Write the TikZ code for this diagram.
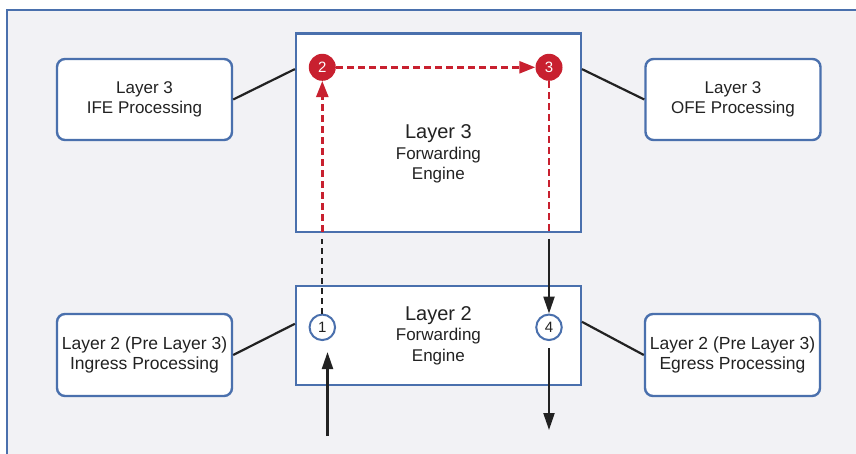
\documentclass[tikz,border=0pt]{standalone}
\usepackage{fontspec}
\setmainfont{Liberation Sans}
\usetikzlibrary{arrows.meta,calc}
\definecolor{frameblue}{HTML}{4A70AD}
\definecolor{flowred}{HTML}{C8202F}
\definecolor{paper}{HTML}{F2F2F5}
\definecolor{ink}{HTML}{222222}

\begin{document}
\begin{tikzpicture}[x=1pt,y=-1pt,
  engine/.style={draw=frameblue,line width=2.4pt,fill=white,inner sep=0pt,
    text=ink,align=center,font=\fontsize{17}{20.5}\selectfont},
  sidebox/.style={draw=frameblue,line width=2.4pt,fill=white,rounded corners=8pt,
    minimum width=175pt,minimum height=81pt,inner sep=0pt,align=center,
    text=ink,font=\fontsize{17}{20}\selectfont},
  hotstep/.style={circle,fill=flowred,text=white,minimum size=27pt,
    inner sep=0pt,font=\fontsize{15}{15}\selectfont},
  coldstep/.style={circle,draw=frameblue,line width=2pt,fill=white,text=ink,
    minimum size=25.5pt,inner sep=0pt,font=\fontsize{15}{15}\selectfont},
  link/.style={draw=ink,line width=2.2pt},
  redflow/.style={draw=flowred,line width=2.4pt,dash pattern=on 7pt off 4pt},
  redtip/.style={-{Triangle[length=16pt,width=12pt]}},
  blackdash/.style={draw=ink,line width=2.2pt,dash pattern=on 6pt off 4pt},
  blackflow/.style={draw=ink,line width=2.2pt,-{Triangle[length=17pt,width=11pt]}}
]
\useasboundingbox (0,0) rectangle (856,453);

% page and outer frame
\fill[white] (0,0) rectangle (856,453);
\fill[paper] (7,10) rectangle (862,460);
\draw[frameblue,line width=2.2pt] (7,460) -- (7,10) -- (862,10);

% forwarding engines
\node[engine,minimum width=284.7pt,minimum height=198.4pt] (l3) at (438.4,132.5) {};
\node[text=ink,align=center,font=\fontsize{17}{20.5}\selectfont] (l3txt) at (438.4,154)
  {{\fontsize{20}{20.5}\selectfont Layer 3}\\Forwarding\\Engine};
\node[engine,minimum width=284.7pt,minimum height=99pt] (l2) at (438.4,335.5)
  {{\fontsize{20}{20.5}\selectfont Layer 2}\\Forwarding\\Engine};

% processing blocks
\node[sidebox] (ife) at (144.5,99.5) {Layer 3\\IFE Processing};
\node[sidebox] (ofe) at (733,99.5) {Layer 3\\OFE Processing};
\node[sidebox,minimum height=82pt,font=\fontsize{17.5}{20}\selectfont] (ing) at (144.5,355)
  {Layer 2 (Pre Layer 3)\\Ingress Processing};
\node[sidebox,minimum height=82pt,font=\fontsize{17.5}{20}\selectfont] (egr) at (732.5,355)
  {Layer 2 (Pre Layer 3)\\Egress Processing};

% attachment points on the engines
\coordinate (l3w) at ($(l3.north west)+(0,37)$);
\coordinate (l3e) at ($(l3.north east)+(0,37)$);
\coordinate (l2w) at ($(l2.north west)+(0,39)$);
\coordinate (l2e) at ($(l2.north east)+(0,37)$);
\draw[link] (ife.east) -- (l3w);
\draw[link] (ofe.west) -- (l3e);
\draw[link] (ing.east) -- (l2w);
\draw[link] (egr.west) -- (l2e);

% numbered steps
\node[hotstep] (c2) at (322.3,67.3) {2};
\node[hotstep] (c3) at (549,67.3) {3};
\node[coldstep] (c1) at (322.3,327.3) {1};
\node[coldstep] (c4) at (549,327.3) {4};

% packet path
\coordinate (inlet) at (327.5,436);
\coordinate (outlet) at (549,430);
\coordinate (up3) at ($(c1 |- l3.south)+(0,-1)$);
\coordinate (up2) at ($(c1 |- l3.south)+(0,6)$);
\coordinate (dn3) at ($(c4 |- l3.south)+(0,-1)$);
\coordinate (dn2) at ($(c4 |- l3.south)+(0,6)$);

\draw[blackflow,shorten >=11pt] (inlet) -- (inlet |- c1.south);
\draw[blackdash] (c1.north) -- (up2);
\draw[redflow,redtip] (up3) -- (c2.south);
\draw[redflow,redtip] (c2.east) -- (c3.west);
\draw[redflow] (c3.south) -- (dn3);
\draw[blackflow] (dn2) -- (c4.north);
\draw[blackflow,shorten <=7pt] (c4.south) -- (outlet);
\end{tikzpicture}
\end{document}
